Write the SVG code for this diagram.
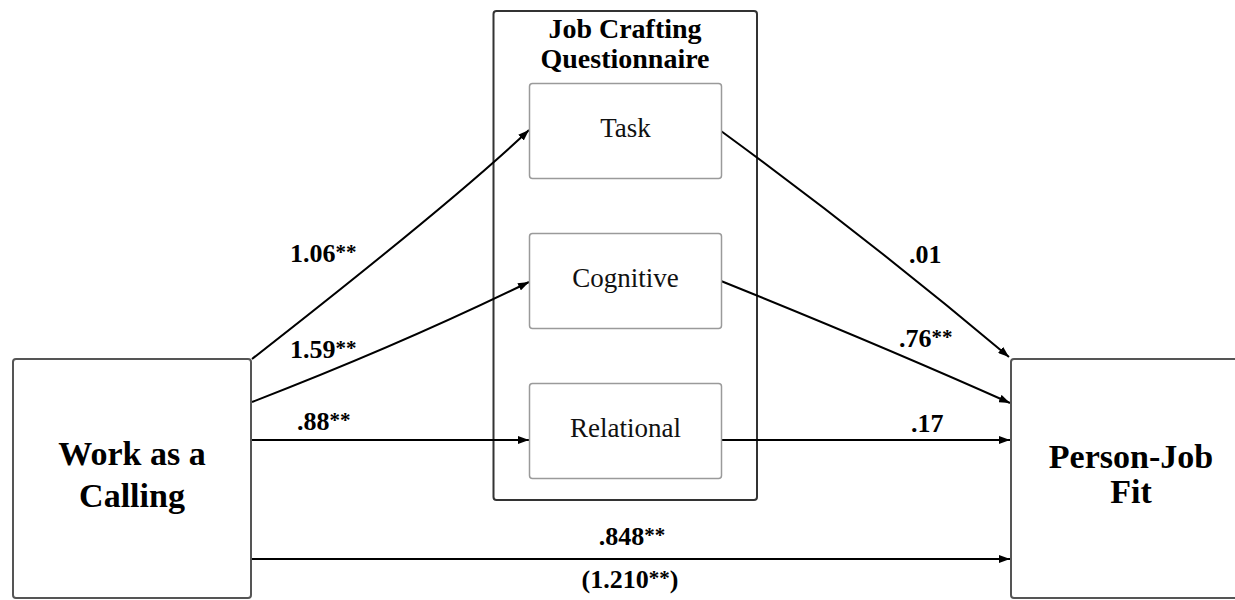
<svg xmlns="http://www.w3.org/2000/svg" width="1235" height="600" viewBox="0 0 1235 600">
  <defs>
    <marker id="arr" markerUnits="userSpaceOnUse" markerWidth="12" markerHeight="8" refX="11" refY="4" orient="auto">
      <path d="M0,0 L11,4 L0,8 z" fill="#000"/>
    </marker>
    <style>
      .big { font-family: "Liberation Serif", "Times New Roman", serif; font-weight: bold; fill: #000; text-anchor: middle; }
      .inner { font-family: "Liberation Serif", "Times New Roman", serif; font-size: 27px; fill: #111; text-anchor: middle; }
      .lbl { font-family: "Liberation Serif", "Times New Roman", serif; font-weight: bold; font-size: 26px; fill: #000; }
      .st { font-size: 21px; }
      .box { fill: #fff; stroke: #555; stroke-width: 2; }
      .ibox { fill: #fff; stroke: #9a9a9a; stroke-width: 1.5; }
      .edge { fill: none; stroke: #000; stroke-width: 2; marker-end: url(#arr); }
    </style>
  </defs>
  <rect width="1235" height="600" fill="#fff"/>

  <g id="job-crafting">
    <rect x="493.5" y="11" width="263.5" height="489" rx="3" fill="#fff" stroke="#333" stroke-width="2"/>
    <text class="big" x="625" y="38" font-size="28">Job Crafting</text>
    <text class="big" x="625" y="68" font-size="28">Questionnaire</text>
  </g>

  <g id="connectors">
    <path class="edge" d="M252,359 Q453,202 529,130"/>
    <path class="edge" d="M252,402 Q400,345 529,282"/>
    <path class="edge" d="M252,440 L529,440"/>
    <path class="edge" d="M721,131 Q870,240 1009,357"/>
    <path class="edge" d="M721,281 Q880,345 1010,403"/>
    <path class="edge" d="M721,440 L1010,440"/>
    <path class="edge" d="M252,559 L1010,559"/>
  </g>

  <g id="labels">
    <text class="lbl" x="290" y="262">1.06<tspan class="st" dy="-3">**</tspan></text>
    <text class="lbl" x="290" y="358">1.59<tspan class="st" dy="-3">**</tspan></text>
    <text class="lbl" x="297" y="430">.88<tspan class="st" dy="-3">**</tspan></text>
    <text class="lbl" x="909" y="263">.01</text>
    <text class="lbl" x="899" y="347">.76<tspan class="st" dy="-3">**</tspan></text>
    <text class="lbl" x="911" y="432">.17</text>
    <text class="lbl" x="632" y="545" text-anchor="middle">.848<tspan class="st" dy="-3">**</tspan></text>
    <text class="lbl" x="630" y="588" text-anchor="middle">(1.210<tspan class="st" dy="-3">**</tspan><tspan dy="3">)</tspan></text>
  </g>

  <g id="task">
    <rect class="ibox" x="529.5" y="83.5" width="192" height="95" rx="3"/>
    <text class="inner" x="625.5" y="137">Task</text>
  </g>
  <g id="cognitive">
    <rect class="ibox" x="529.5" y="233.5" width="192" height="95" rx="3"/>
    <text class="inner" x="625.5" y="287">Cognitive</text>
  </g>
  <g id="relational">
    <rect class="ibox" x="529.5" y="383.5" width="192" height="95" rx="3"/>
    <text class="inner" x="625.5" y="437">Relational</text>
  </g>

  <g id="work-as-a-calling">
    <rect class="box" x="13" y="359" width="238" height="239" rx="3"/>
    <text class="big" x="132" y="465" font-size="34">Work as a</text>
    <text class="big" x="132" y="507" font-size="34">Calling</text>
  </g>

  <g id="person-job-fit">
    <rect class="box" x="1011" y="359" width="238" height="239" rx="3"/>
    <text class="big" x="1131" y="468" font-size="34">Person-Job</text>
    <text class="big" x="1131" y="503" font-size="34">Fit</text>
  </g>
</svg>
